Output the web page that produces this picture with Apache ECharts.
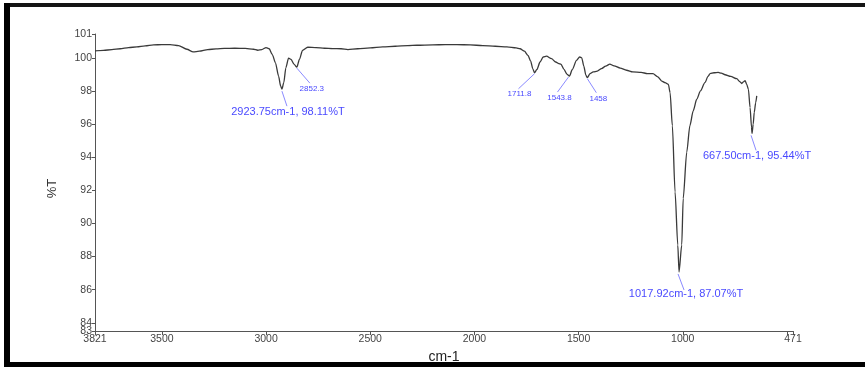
<!DOCTYPE html>
<html>
<head>
<meta charset="utf-8">
<script src="https://cdn.jsdelivr.net/npm/echarts@6/dist/echarts.min.js"></script>
<style>
html,body{margin:0;padding:0;background:#fff;}
#chart{width:865px;height:369px;}
</style>
</head>
<body>
<div id="chart"></div>
<script>
// Wavenumbers (cm-1) and transmittance (%T)
var wavenumbers = [3821,3780,3740,3700,3660,3620,3580,3540,3500,3460,3420,3380,3350,3320,3280,3240,3200,3150,3100,3060,3040,3020,3000,2985,2970,2955,2940,2930,2923.75,2915,2905,2892,2880,2865,2852.3,2840,2825,2800,2760,2720,2680,2640,2607,2560,2500,2440,2380,2320,2276,2200,2140,2084,2020,1960,1900,1844,1800,1781,1760,1743,1730,1720,1711.8,1700,1685,1670,1654,1630,1610,1595,1585,1570,1555,1543.8,1530,1510,1495,1485,1475,1465,1458,1445,1430,1410,1390,1370,1350,1330,1300,1270,1240,1200,1170,1143,1120,1101,1085,1069,1061,1050,1037,1024,1017.92,1005,998,981,966,950,933,915,894,878,869,850,830,815,797,770,741,725,717,709,701,693,685,677,670,667.5,662,657,650,645];
var transmittance = [100.42,100.45,100.50,100.55,100.62,100.66,100.72,100.78,100.80,100.80,100.74,100.52,100.36,100.40,100.50,100.54,100.57,100.58,100.57,100.52,100.46,100.50,100.62,100.55,100.20,99.70,98.90,98.30,98.11,98.50,99.40,99.98,99.90,99.60,99.44,99.90,100.45,100.64,100.62,100.58,100.56,100.55,100.50,100.55,100.60,100.66,100.70,100.74,100.76,100.78,100.80,100.80,100.78,100.74,100.70,100.66,100.60,100.55,100.40,100.15,99.80,99.35,99.10,99.30,99.75,100.05,100.10,99.95,99.75,99.65,99.62,99.30,99.00,98.90,99.30,99.85,100.05,100.00,99.50,98.95,98.80,99.05,99.15,99.20,99.35,99.50,99.62,99.52,99.38,99.25,99.15,99.12,99.05,99.05,98.85,98.60,98.50,98.40,97.90,95.90,91.90,88.70,87.07,88.70,91.50,94.30,95.90,96.80,97.50,98.00,98.50,98.90,99.05,99.10,99.12,99.08,98.98,98.88,98.74,98.55,98.45,98.55,98.62,98.40,98.10,97.00,95.80,95.44,96.00,96.70,97.30,97.70];

// Axis ticks / labels
var xTickValues = [3821,3500,3000,2500,2000,1500,1000,500,471];
var xLabelValues = [3821,3500,3000,2500,2000,1500,1000,471];
var yTickValues = [83.5,84,86,88,90,92,94,96,98,100,101.44];
var yLabelValues = [84,86,88,90,92,94,96,98,100,101.44];
var yEndLabelValues = [83.5];

// Peak annotations
var peakWn = [2923.75, 2852.3, 1711.8, 1543.8, 1458, 1017.92, 667.50];
var peakT = [98.11, 99.44, 99.10, 98.90, 98.80, 87.07, 95.44];
var peakText = ['2923.75cm-1, 98.11%T','2852.3','1711.8','1543.8','1458','1017.92cm-1, 87.07%T','667.50cm-1, 95.44%T'];

// Leader / label pixel offsets (style)
var annoLayout = [
  {s:[0,2],  e:[5,17],  l:[6,23],  fs:11},
  {s:[0,1],  e:[13,16], l:[15,22], fs:8},
  {s:[0,1],  e:[-16,16],l:[-15,21],fs:8},
  {s:[-1,1], e:[-12,16],l:[-10,22],fs:8},
  {s:[0,1],  e:[9,15],  l:[11,21], fs:8},
  {s:[-1,2], e:[5,18],  l:[7,22],  fs:11},
  {s:[-1,2], e:[4,17],  l:[5,23],  fs:11}
];

var seriesData = wavenumbers.map(function(w,i){return [w, transmittance[i]];});
var FONT = '"Liberation Sans", Arial, sans-serif';
var yLabelFmt = function(v){return String(Math.floor(v));};

var chart = echarts.init(document.getElementById('chart'), null, {renderer:'canvas'});
var option = {
  animation: false,
  backgroundColor: '#fff',
  grid: {left: 95, right: 72, top: 34, bottom: 35, containLabel: false},
  xAxis: {
    type: 'value', inverse: true, min: 471, max: 3821,
    name: 'cm-1', nameLocation: 'middle', nameGap: 15,
    nameTextStyle: {fontSize: 14, color: '#222', fontFamily: FONT},
    axisLine: {show: true, lineStyle: {color: '#555', width: 1}},
    axisTick: {show: true, length: 4, lineStyle: {color: '#555'}, customValues: xTickValues},
    axisLabel: {fontSize: 10.5, color: '#444', fontFamily: FONT, margin: 3, customValues: xLabelValues,
      showMinLabel: true, showMaxLabel: true, hideOverlap: false,
      formatter: function(v){return String(Math.round(v));}},
    splitLine: {show: false}
  },
  yAxis: [{
    type: 'value', min: 83.5, max: 101.44,
    name: '%T', nameLocation: 'middle', nameGap: 36, nameRotate: 90,
    nameTextStyle: {fontSize: 13, color: '#333', fontFamily: FONT, padding: [0,12,0,0]},
    axisLine: {show: true, lineStyle: {color: '#555', width: 1}},
    axisTick: {show: true, length: 3, lineStyle: {color: '#555'}, customValues: yTickValues},
    axisLabel: {fontSize: 10.5, color: '#444', fontFamily: FONT, margin: 3, customValues: yLabelValues,
      showMaxLabel: true, hideOverlap: false, formatter: yLabelFmt},
    splitLine: {show: false}
  }, {
    type: 'value', min: 83.5, max: 101.44, position: 'left',
    axisLine: {show: false}, axisTick: {show: false}, splitLine: {show: false},
    axisLabel: {fontSize: 10.5, color: '#444', fontFamily: FONT, margin: 3, customValues: yEndLabelValues,
      showMinLabel: true, hideOverlap: false, formatter: yLabelFmt}
  }],
  series: [{
    type: 'line', data: seriesData, showSymbol: false, smooth: 0.25, smoothMonotone: 'x',
    lineStyle: {color: '#3a3a3a', width: 1.3}
  }]
};
chart.setOption(option);

var graphics = [
  {type:'rect', shape:{x:4,y:3,width:861,height:4}, style:{fill:'#151515'}, z:100},
  {type:'rect', shape:{x:4,y:3,width:6,height:364}, style:{fill:'#000'}, z:100},
  {type:'rect', shape:{x:4,y:362,width:861,height:5}, style:{fill:'#000'}, z:100}
];
peakWn.forEach(function(w,i){
  var p = chart.convertToPixel({seriesIndex:0}, [w, peakT[i]]);
  var a = annoLayout[i];
  graphics.push({type:'line', shape:{x1:p[0]+a.s[0], y1:p[1]+a.s[1], x2:p[0]+a.e[0], y2:p[1]+a.e[1]},
    style:{stroke:'#8a8aff', lineWidth:1}, z:50});
  graphics.push({type:'text', x:p[0]+a.l[0], y:p[1]+a.l[1],
    style:{text:peakText[i], fill:'#4a4aff', font:a.fs+'px '+FONT, textAlign:'center', textVerticalAlign:'middle'}, z:50});
});
chart.setOption({graphic: graphics});
</script>
</body>
</html>
